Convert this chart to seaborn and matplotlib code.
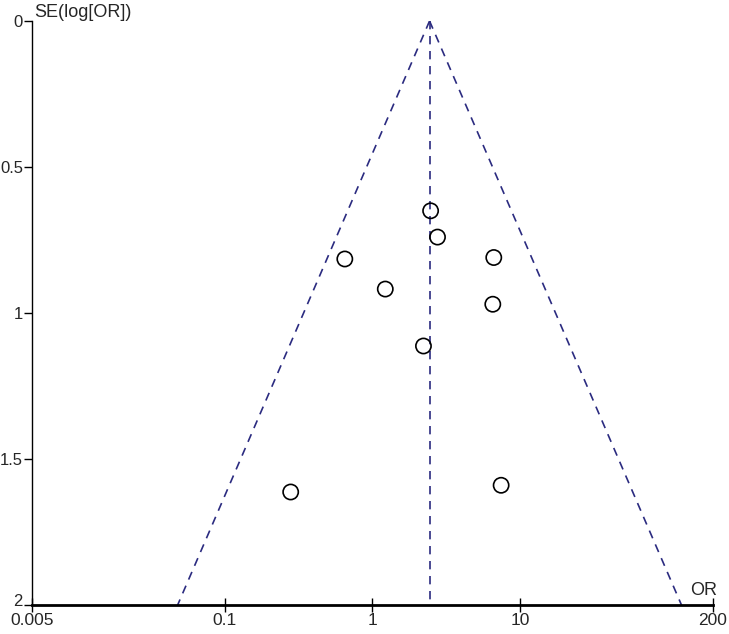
import numpy as np
import pandas as pd
import seaborn as sns
import matplotlib.pyplot as plt
import matplotlib.transforms as mtransforms

# study estimates
odds_ratio = [2.47, 2.75, 0.65, 6.6, 1.22, 6.5, 2.21, 0.28, 7.4]
se_log_or = [0.65, 0.74, 0.815, 0.81, 0.918, 0.97, 1.113, 1.613, 1.59]
pooled_or = 2.43

x_ticks = [0.005, 0.1, 1, 10, 200]
x_ticklabels = ["0.005", "0.1", "1", "10", "200"]
y_ticks = [0, 0.5, 1, 1.5, 2]
y_ticklabels = ["0", "0.5", "1", "1.5", "2"]

df = pd.DataFrame({"OR": odds_ratio, "SE": se_log_or})

sns.set_style("white")
plt.rcParams["font.family"] = ["Liberation Sans Narrow", "Liberation Sans", "DejaVu Sans"]

fig = plt.figure(figsize=(7.29, 6.34), dpi=100)
ax = fig.add_axes([32 / 729, 29 / 634, 681 / 729, 584 / 634])

# funnel: pseudo 95% confidence limits
se_line = np.array([0, 2])
navy = "#2b2b80"
ax.plot(pooled_or * np.exp(-1.96 * se_line), se_line, ls=(0, (5, 4)), color=navy, lw=1.2)
ax.plot(pooled_or * np.exp(1.96 * se_line), se_line, ls=(0, (5, 4)), color=navy, lw=1.2)
ax.plot([pooled_or, pooled_or], [0, 2], ls=(0, (5, 4)), color=navy, lw=1.2)

sns.scatterplot(data=df, x="OR", y="SE", ax=ax, s=120, marker="o",
                facecolor="none", edgecolor="black", linewidth=1.2, zorder=3)

ax.set_xscale("log")
ax.set_xlim(0.005, 200)
ax.set_ylim(2, 0)
ax.set_xticks(x_ticks)
ax.set_xticklabels(x_ticklabels)
ax.minorticks_off()
ax.set_yticks(y_ticks)
ax.set_yticklabels(y_ticklabels)
ax.set_xlabel("")
ax.set_ylabel("")

for side in ["top", "right"]:
    ax.spines[side].set_visible(False)
ax.spines["left"].set_linewidth(1.0)
ax.spines["bottom"].set_linewidth(2.0)
ax.spines["left"].set_color("black")
ax.spines["bottom"].set_color("black")

ax.tick_params(axis="x", bottom=True, direction="inout", length=10, width=1,
               labelsize=12.5, pad=1, color="black")
ax.tick_params(axis="y", left=True, direction="out", length=6, width=1,
               labelsize=12, pad=0.5, color="black")
ax.patch.set_alpha(0)

# lift the bottom y label a little so it sits above the x labels
lbl = ax.get_yticklabels()[-1]
lbl.set_transform(lbl.get_transform() + mtransforms.ScaledTranslation(0, 5 / 100, fig.dpi_scale_trans))

ax.text(0.003, 1.0, "SE(log[OR])", transform=ax.transAxes, fontsize=13,
        va="bottom", ha="left")
ax.text(0.967, 0.01, "OR", transform=ax.transAxes, fontsize=13,
        va="bottom", ha="left")

fig.savefig("out.png", dpi=100)
